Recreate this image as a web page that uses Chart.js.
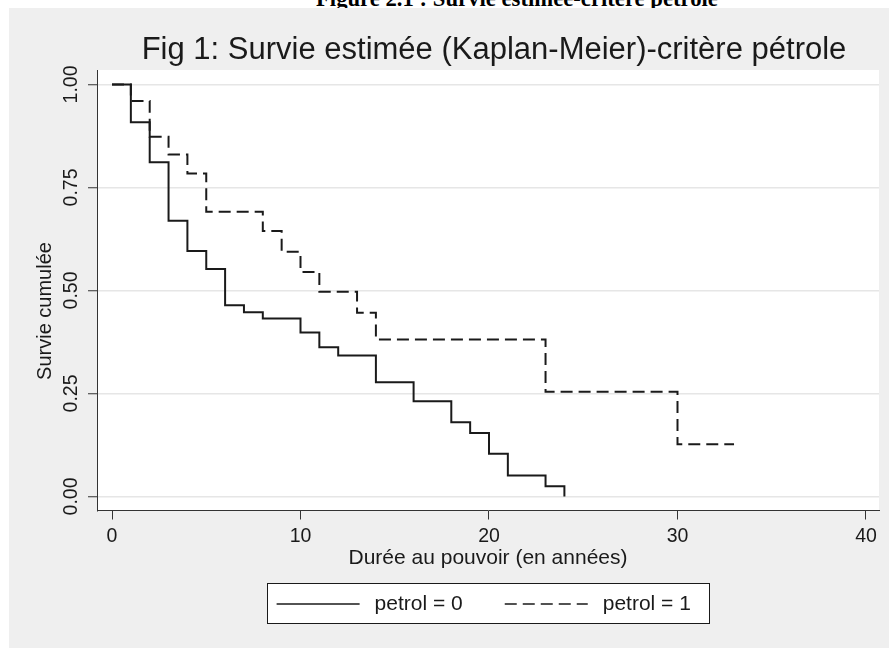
<!DOCTYPE html>
<html>
<head>
<meta charset="utf-8">
<script src="https://cdn.jsdelivr.net/npm/chart.js@4.4.1/dist/chart.umd.min.js"></script>
<style>
  html, body { margin: 0; padding: 0; background: #fff; overflow: hidden; width: 889px; height: 648px; }
  #heading { position: absolute; left: 316px; top: -12px; font: bold 22.7px "Liberation Serif", "Times New Roman", serif; line-height: 22.7px; white-space: nowrap; color: #000; }
  #wrap { position: absolute; left: 9px; top: 8px; width: 962px; height: 640px; }
</style>
</head>
<body>
<div id="heading">Figure 2.1 : Survie estimée-critère pétrole</div>
<div id="wrap"><canvas id="km" width="962" height="640"></canvas></div>
<script>
// Kaplan-Meier estimates (time in years, cumulative survival)
const years0 = [0, 1, 2, 3, 4, 5, 6, 7, 8, 10, 11, 12, 14, 16, 18, 19, 20, 21, 23, 24];
const surv0  = [1, 0.908, 0.811, 0.669, 0.596, 0.552, 0.464, 0.447, 0.432, 0.398, 0.362, 0.342, 0.277, 0.231, 0.180, 0.154, 0.104, 0.051, 0.025, 0];
const years1 = [0, 1, 2, 3, 4, 5, 8, 9, 10, 11, 13, 14, 23, 30, 33];
const surv1  = [1, 0.96, 0.873, 0.83, 0.784, 0.691, 0.644, 0.594, 0.545, 0.497, 0.446, 0.381, 0.254, 0.127, 0.127];
const groups = ["petrol = 0", "petrol = 1"];
const xTicks = [0, 10, 20, 30, 40];
const yTicks = [0, 0.25, 0.5, 0.75, 1];

const titleText = "Fig 1: Survie estimée (Kaplan-Meier)-critère pétrole";
const xTitle = "Durée au pouvoir (en années)";
const yTitle = "Survie cumulée";

const family = '"Liberation Sans", Arial, Helvetica, sans-serif';
const ink = '#1a1a1a';

function points(xs, ys) {
  return xs.map((x, i) => ({ x: x, y: ys[i] }));
}

// background, rotated y labels, title and boxed legend in Stata style
const stataLook = {
  id: 'stataLook',
  beforeDraw(chart) {
    const { ctx, chartArea: a } = chart;
    ctx.save();
    ctx.fillStyle = '#efefef';
    ctx.fillRect(0, 0, chart.width, chart.height);
    ctx.fillStyle = '#ffffff';
    ctx.fillRect(a.left, a.top, a.right - a.left, a.bottom - a.top);
    ctx.restore();
  },
  afterDraw(chart) {
    const { ctx, chartArea: a, scales } = chart;
    const cx = (a.left + a.right) / 2;
    ctx.save();
    ctx.fillStyle = ink;

    ctx.font = '31px ' + family;
    ctx.textAlign = 'center';
    ctx.textBaseline = 'alphabetic';
    ctx.fillText(titleText, cx + 6, 51.3);

    ctx.font = '19.5px ' + family;
    ctx.textBaseline = 'middle';
    yTicks.forEach(v => {
      ctx.save();
      ctx.translate(63, scales.y.getPixelForValue(v));
      ctx.rotate(-Math.PI / 2);
      ctx.fillText(v.toFixed(2), 0, 0);
      ctx.restore();
    });

    ctx.font = '20px ' + family;
    ctx.save();
    ctx.translate(36, 303);
    ctx.rotate(-Math.PI / 2);
    ctx.fillText(yTitle, 0, 0);
    ctx.restore();

    // legend
    ctx.font = '21px ' + family;
    const lineLen = 83, gap = 15, itemGap = 42, padL = 9.5, padR = 18;
    const ds = chart.data.datasets;
    const widths = ds.map(d => ctx.measureText(d.label).width);
    let w = padL + padR + itemGap * (ds.length - 1);
    widths.forEach(tw => { w += lineLen + gap + tw; });
    const left = cx - w / 2;
    const top = a.bottom + 72.5;
    const h = 40;
    ctx.fillStyle = '#ffffff';
    ctx.fillRect(left, top, w, h);
    ctx.strokeStyle = ink;
    ctx.lineWidth = 1;
    ctx.strokeRect(Math.round(left) + 0.5, Math.round(top) + 0.5, Math.round(w), h);
    let x = left + padL;
    const y = top + h / 2 + 1;
    ds.forEach((d, i) => {
      ctx.beginPath();
      ctx.setLineDash(d.borderDash || []);
      ctx.lineWidth = 1.6;
      ctx.strokeStyle = d.borderColor;
      ctx.moveTo(x, y);
      ctx.lineTo(x + lineLen, y);
      ctx.stroke();
      ctx.setLineDash([]);
      ctx.fillStyle = ink;
      ctx.textAlign = 'left';
      ctx.textBaseline = 'middle';
      ctx.fillText(d.label, x + lineLen + gap, y);
      x += lineLen + gap + widths[i] + itemGap;
    });
    ctx.restore();
  }
};

new Chart(document.getElementById('km'), {
  type: 'line',
  data: {
    datasets: [
      {
        label: groups[0],
        data: points(years0, surv0),
        borderColor: ink,
        borderWidth: 2,
        stepped: true,
        pointRadius: 0,
        fill: false
      },
      {
        label: groups[1],
        data: points(years1, surv1),
        borderColor: ink,
        borderWidth: 2,
        borderDash: [12, 6],
        stepped: true,
        pointRadius: 0,
        fill: false
      }
    ]
  },
  options: {
    responsive: false,
    animation: false,
    devicePixelRatio: 1,
    layout: { autoPadding: false, padding: { left: 0, right: 92, top: 62, bottom: 0 } },
    plugins: {
      legend: { display: false },
      title: { display: false },
      tooltip: { enabled: false }
    },
    scales: {
      x: {
        type: 'linear',
        min: -0.796,
        max: 40.69,
        afterBuildTicks: s => { s.ticks = xTicks.map(v => ({ value: v })); },
        afterFit: s => { s.height = 137.5; },
        grid: { display: true, drawOnChartArea: false, tickLength: 9, tickColor: '#333', tickWidth: 1 },
        border: { display: true, color: '#333', width: 1 },
        ticks: { color: ink, font: { family: family, size: 19.5 }, padding: 5, maxRotation: 0 },
        title: { display: true, text: xTitle, color: ink, font: { family: family, size: 21 }, padding: { top: 0, bottom: 77.4 } }
      },
      y: {
        type: 'linear',
        min: -0.034,
        max: 1.035,
        afterBuildTicks: s => { s.ticks = yTicks.map(v => ({ value: v })); },
        afterFit: s => { s.width = 88; },
        grid: { color: '#e6e6e6', lineWidth: 1.5, tickLength: 9, tickColor: '#333', tickWidth: 1 },
        border: { display: true, color: '#333', width: 1 },
        ticks: { display: false }
      }
    }
  },
  plugins: [stataLook]
});
</script>
</body>
</html>
